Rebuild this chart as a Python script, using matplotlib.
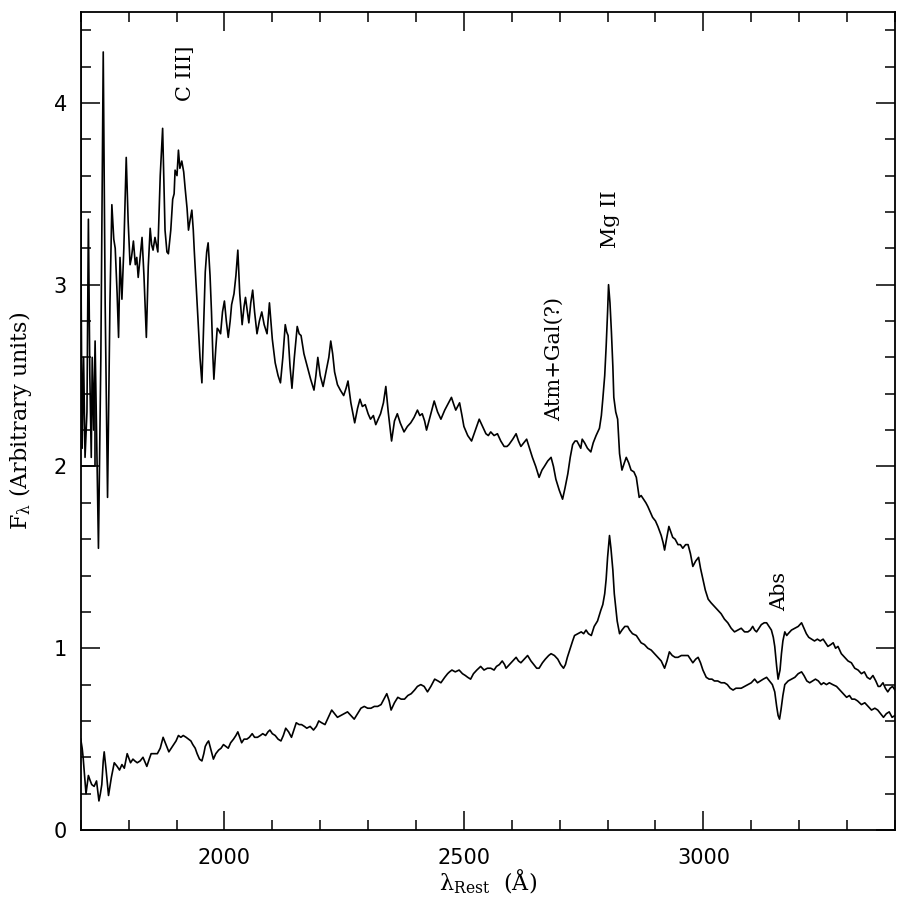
import matplotlib
matplotlib.use("Agg")
import matplotlib.pyplot as plt
from matplotlib.ticker import MultipleLocator

# ---------------- data ----------------
upper_wl = [1700, 1701, 1703, 1706, 1709, 1713, 1716, 1719, 1722, 1724, 1727, 1730, 1733, 1737, 1742,
            1747, 1751, 1756, 1761, 1765, 1769, 1772, 1776, 1779, 1782, 1786, 1790, 1795, 1799, 1803,
            1806, 1810, 1814, 1817, 1820, 1824, 1828, 1832, 1837, 1841, 1845, 1848, 1851, 1855, 1858,
            1861, 1866, 1871, 1876, 1880, 1883, 1888, 1892, 1895, 1897, 1901, 1904, 1907, 1911, 1915,
            1918, 1922, 1925, 1928, 1932, 1935, 1937, 1941, 1945, 1949, 1953, 1957, 1960, 1963, 1966,
            1970, 1973, 1976, 1978, 1982, 1985, 1988, 1992, 1996, 2000, 2004, 2008, 2012, 2015, 2020,
            2024, 2028, 2032, 2037, 2041, 2044, 2048, 2051, 2055, 2059, 2063, 2068, 2073, 2078, 2083,
            2089, 2094, 2100, 2106, 2112, 2117, 2122, 2127, 2130, 2133, 2137, 2141, 2146, 2152, 2156,
            2160, 2166, 2173, 2180, 2187, 2191, 2195, 2200, 2206, 2212, 2218, 2222, 2226, 2230, 2236,
            2242, 2249, 2254, 2258, 2264, 2272, 2278, 2283, 2288, 2294, 2300, 2305, 2311, 2316, 2321,
            2326, 2332, 2337, 2342, 2349, 2355, 2361, 2367, 2375, 2382, 2389, 2396, 2403, 2408, 2413,
            2418, 2422, 2430, 2438, 2445, 2452, 2460, 2468, 2474, 2479, 2483, 2487, 2491, 2496, 2500,
            2508, 2516, 2524, 2532, 2539, 2546, 2551, 2556, 2563, 2570, 2577, 2584, 2590, 2594, 2602,
            2609, 2614, 2619, 2625, 2631, 2637, 2643, 2650, 2657, 2663, 2668, 2675, 2682, 2687, 2692,
            2699, 2706, 2711, 2717, 2722, 2727, 2732, 2736, 2740, 2744, 2747, 2752, 2758, 2765, 2770,
            2776, 2783, 2787, 2790, 2794, 2797, 2800, 2802, 2805, 2808, 2811, 2813, 2817,
            2821, 2825, 2830, 2835, 2839, 2844, 2849, 2855, 2860, 2866, 2870, 2875, 2880, 2884, 2889,
            2894, 2900, 2905, 2912, 2916, 2919, 2923, 2928, 2932, 2936, 2941, 2947, 2952, 2957, 2963,
            2968, 2973, 2978, 2984, 2990, 2994, 2999,
            3004, 3010, 3016, 3023, 3030, 3037, 3044, 3051, 3058, 3065, 3072, 3079, 3086,
            3093, 3098, 3103, 3107, 3111, 3116, 3121, 3127, 3132, 3137, 3142, 3146, 3149, 3153, 3156,
            3160, 3163, 3166, 3170, 3174, 3177, 3184, 3191, 3198, 3205, 3210, 3215, 3220, 3226, 3232,
            3238, 3244, 3250, 3255, 3260, 3266, 3271, 3276, 3281, 3288, 3295, 3302, 3309, 3316, 3323,
            3330, 3336, 3342, 3348, 3354, 3360, 3365, 3369, 3375, 3380, 3385, 3390, 3395, 3400]
upper_f = [4.7, 2.9, 2.1, 2.6, 2.05, 2.3, 3.36, 2.5, 2.05, 2.6, 2.2, 2.69, 2.2, 1.55, 2.6,
           4.28, 2.9, 1.83, 2.9, 3.44, 3.25, 3.2, 2.95, 2.71, 3.15, 2.92, 3.2, 3.70, 3.35, 3.11,
           3.15, 3.24, 3.11, 3.15, 3.04, 3.15, 3.26, 3.05, 2.71, 3.1, 3.31, 3.22, 3.19, 3.26, 3.22,
           3.18, 3.6, 3.86, 3.30, 3.18, 3.17, 3.3, 3.47, 3.5, 3.63, 3.6, 3.74, 3.64, 3.68, 3.62,
           3.53, 3.42, 3.30, 3.35, 3.41, 3.3, 3.19, 3.0, 2.80, 2.6, 2.46, 2.8, 3.07, 3.18, 3.23,
           3.05, 2.85, 2.6, 2.48, 2.65, 2.76, 2.75, 2.73, 2.85, 2.91, 2.8, 2.71, 2.8, 2.89, 2.95,
           3.05, 3.19, 2.95, 2.78, 2.88, 2.93, 2.85, 2.79, 2.9, 2.97, 2.85, 2.73, 2.8, 2.85, 2.78,
           2.73, 2.90, 2.7, 2.57, 2.5, 2.46, 2.6, 2.78, 2.74, 2.72, 2.55, 2.43, 2.6, 2.77, 2.73,
           2.72, 2.62, 2.55, 2.48, 2.42, 2.5, 2.60, 2.5, 2.44, 2.52, 2.6, 2.69, 2.62, 2.52, 2.45,
           2.42, 2.39, 2.43, 2.47, 2.35, 2.24, 2.32, 2.37, 2.33, 2.34, 2.29, 2.26, 2.28, 2.23, 2.26,
           2.29, 2.35, 2.44, 2.3, 2.14, 2.25, 2.29, 2.24, 2.19, 2.22, 2.24, 2.27, 2.31, 2.28, 2.29,
           2.25, 2.20, 2.28, 2.36, 2.3, 2.26, 2.31, 2.35, 2.38, 2.34, 2.31, 2.33, 2.35, 2.28, 2.22,
           2.17, 2.14, 2.2, 2.26, 2.22, 2.18, 2.17, 2.19, 2.17, 2.18, 2.14, 2.11, 2.11, 2.12, 2.15,
           2.18, 2.14, 2.11, 2.13, 2.15, 2.1, 2.05, 2.0, 1.94, 1.98, 2.0, 2.03, 2.05, 2.0, 1.93,
           1.87, 1.82, 1.88, 1.96, 2.05, 2.12, 2.14, 2.14, 2.12, 2.10, 2.15, 2.13, 2.1, 2.08, 2.13,
           2.17, 2.21, 2.28, 2.37, 2.5, 2.66, 2.85, 3.0, 2.9, 2.74, 2.55, 2.38, 2.3,
           2.26, 2.07, 1.98, 2.02, 2.05, 2.02, 1.98, 1.97, 1.94, 1.83, 1.84, 1.82, 1.80, 1.78, 1.75,
           1.72, 1.70, 1.67, 1.62, 1.58, 1.54, 1.60, 1.67, 1.64, 1.61, 1.60, 1.57, 1.57, 1.55, 1.57,
           1.57, 1.52, 1.45, 1.48, 1.50, 1.44, 1.38,
           1.32, 1.27, 1.25, 1.23, 1.21, 1.19, 1.16, 1.14, 1.11, 1.09, 1.1, 1.11, 1.09,
           1.09, 1.1, 1.12, 1.1, 1.09, 1.11, 1.13, 1.14, 1.14, 1.12, 1.10, 1.06, 1.01, 0.9, 0.83,
           0.88, 0.97, 1.04, 1.09, 1.07, 1.08, 1.1, 1.11, 1.12, 1.14, 1.11, 1.08, 1.06, 1.05, 1.04,
           1.05, 1.04, 1.05, 1.03, 1.01, 1.02, 1.03, 1.0, 1.01, 0.97, 0.95, 0.93, 0.92, 0.89, 0.88,
           0.86, 0.87, 0.84, 0.83, 0.85, 0.82, 0.79, 0.79, 0.81, 0.78, 0.76, 0.78, 0.79, 0.77]

# flat (padded) stretch at the blue end of the upper spectrum
gap_wl = [1700, 1729, 1729]
gap_f = [2.0, 2.0, 2.6]

lower_wl = [1700, 1703, 1705, 1708, 1711, 1716, 1720, 1723, 1728, 1733, 1738, 1741, 1744, 1747, 1749,
            1753, 1758, 1764, 1770, 1776, 1781, 1786, 1791, 1797, 1804, 1809, 1813, 1818, 1824, 1830,
            1838, 1843, 1847, 1853, 1860, 1866, 1872, 1878, 1884, 1889, 1894, 1899, 1904, 1909, 1914,
            1920, 1925, 1930, 1934, 1939, 1943, 1948, 1953, 1957, 1960, 1964, 1967, 1972, 1977, 1982,
            1988, 1993, 1998, 2003, 2008, 2013, 2019, 2024, 2028, 2032, 2036, 2041, 2047, 2052, 2058,
            2063, 2069, 2075, 2080, 2086, 2091, 2095, 2100, 2106, 2112, 2118, 2123, 2128, 2134, 2140,
            2145, 2150, 2156, 2161, 2167, 2172, 2179, 2186, 2192, 2197, 2203, 2210, 2217, 2224, 2230,
            2236, 2243, 2250, 2257, 2264, 2271, 2278, 2285, 2292, 2299, 2306, 2313, 2320, 2327, 2333,
            2339, 2344, 2348, 2355, 2362, 2369, 2376, 2383, 2390, 2397, 2403, 2410, 2417, 2424, 2431,
            2439, 2446, 2452, 2460, 2466, 2470, 2475, 2482, 2490, 2497, 2503, 2508, 2514, 2520, 2527,
            2535, 2542, 2549, 2556, 2563, 2568, 2574, 2580, 2585, 2588, 2595, 2602, 2609, 2614, 2619,
            2626, 2633, 2640, 2646, 2652, 2657, 2664, 2670, 2677, 2682, 2689, 2696, 2702, 2708, 2712,
            2716, 2722, 2727, 2731, 2738, 2745, 2750, 2755, 2760, 2766, 2772, 2779, 2786, 2790, 2794,
            2797, 2800, 2804, 2807, 2811, 2814, 2816, 2820, 2825, 2830, 2836, 2842, 2846, 2852, 2860,
            2865, 2870, 2877, 2884, 2891, 2898, 2905, 2912, 2919, 2924, 2929, 2935, 2941, 2947, 2954,
            2961, 2968, 2973, 2978, 2984, 2989, 2994, 2999, 3006, 3012, 3018, 3023, 3030, 3037, 3044,
            3050, 3056, 3062, 3068, 3074, 3079, 3086, 3093, 3100, 3107, 3113, 3119, 3125, 3132, 3138,
            3144, 3149, 3153, 3156, 3159, 3162, 3166, 3170, 3177, 3184, 3191, 3198, 3205, 3210, 3216,
            3222, 3228, 3234, 3240, 3246, 3251, 3257, 3263, 3270, 3278, 3285, 3292, 3299, 3305, 3310,
            3316, 3322, 3330, 3337, 3344, 3351, 3358, 3364, 3370, 3376, 3382, 3388, 3394, 3400]
lower_f = [0.50, 0.45, 0.40, 0.3, 0.20, 0.30, 0.27, 0.25, 0.24, 0.27, 0.16, 0.2, 0.25, 0.38, 0.43,
           0.33, 0.19, 0.29, 0.37, 0.35, 0.33, 0.36, 0.34, 0.42, 0.37, 0.39, 0.38, 0.37, 0.38, 0.40,
           0.35, 0.39, 0.42, 0.42, 0.42, 0.45, 0.51, 0.47, 0.43, 0.45, 0.47, 0.49, 0.52, 0.51, 0.52,
           0.51, 0.50, 0.49, 0.47, 0.45, 0.42, 0.39, 0.38, 0.42, 0.46, 0.48, 0.49, 0.44, 0.39, 0.42,
           0.44, 0.45, 0.47, 0.46, 0.45, 0.48, 0.50, 0.52, 0.54, 0.51, 0.48, 0.50, 0.50, 0.51, 0.53,
           0.51, 0.51, 0.52, 0.53, 0.52, 0.54, 0.55, 0.53, 0.52, 0.50, 0.49, 0.52, 0.56, 0.54, 0.51,
           0.55, 0.59, 0.58, 0.58, 0.57, 0.56, 0.57, 0.55, 0.57, 0.60, 0.59, 0.58, 0.62, 0.66, 0.64,
           0.62, 0.63, 0.64, 0.65, 0.63, 0.61, 0.64, 0.67, 0.68, 0.67, 0.67, 0.68, 0.68, 0.69, 0.72,
           0.75, 0.71, 0.66, 0.70, 0.73, 0.72, 0.72, 0.74, 0.75, 0.77, 0.79, 0.80, 0.79, 0.76, 0.79,
           0.83, 0.82, 0.81, 0.84, 0.86, 0.87, 0.88, 0.87, 0.88, 0.86, 0.85, 0.84, 0.83, 0.86, 0.88,
           0.90, 0.88, 0.89, 0.89, 0.88, 0.90, 0.91, 0.93, 0.91, 0.89, 0.91, 0.93, 0.95, 0.93, 0.92,
           0.94, 0.96, 0.93, 0.91, 0.89, 0.89, 0.92, 0.94, 0.96, 0.97, 0.96, 0.94, 0.91, 0.89, 0.91,
           0.95, 1.0, 1.04, 1.07, 1.08, 1.09, 1.08, 1.10, 1.08, 1.07, 1.12, 1.15, 1.21, 1.24, 1.3,
           1.38, 1.5, 1.62, 1.55, 1.43, 1.3, 1.25, 1.15, 1.08, 1.1, 1.12, 1.12, 1.10, 1.08, 1.07,
           1.05, 1.03, 1.02, 1.0, 0.99, 0.97, 0.95, 0.93, 0.89, 0.93, 0.98, 0.96, 0.95, 0.95, 0.96,
           0.96, 0.96, 0.94, 0.92, 0.94, 0.95, 0.92, 0.88, 0.84, 0.83, 0.83, 0.82, 0.82, 0.81, 0.81,
           0.80, 0.78, 0.77, 0.78, 0.78, 0.78, 0.79, 0.80, 0.81, 0.83, 0.81, 0.82, 0.83, 0.84, 0.82,
           0.80, 0.76, 0.68, 0.63, 0.61, 0.66, 0.74, 0.80, 0.82, 0.83, 0.84, 0.86, 0.87, 0.85, 0.82,
           0.81, 0.82, 0.83, 0.82, 0.80, 0.81, 0.80, 0.81, 0.80, 0.79, 0.77, 0.75, 0.73, 0.74, 0.72,
           0.72, 0.71, 0.69, 0.70, 0.68, 0.66, 0.67, 0.66, 0.64, 0.62, 0.64, 0.65, 0.62, 0.63]

line_labels = ["C III]", "Mg II", "Atm+Gal(?)", "Abs"]
label_wl = [1918, 2807, 2689, 3159]
label_f = [4.16, 3.36, 2.59, 1.31]

x_major = [2000, 2500, 3000]
y_major = [0, 1, 2, 3, 4]

# ---------------- figure ----------------
plt.rcParams['mathtext.fontset'] = 'dejavuserif'
fig = plt.figure(figsize=(9.03, 9.02), dpi=100)
ax = fig.add_axes([0.0894, 0.0798, 0.9017, 0.9069])

ax.plot(upper_wl, upper_f, color='black', lw=1.2)
ax.plot(gap_wl, gap_f, color='black', lw=1.2)
ax.plot(lower_wl, lower_f, color='black', lw=1.2)

ax.set_xlim(1700, 3400)
ax.set_ylim(0, 4.5)
ax.set_xticks(x_major)
ax.set_yticks(y_major)
ax.xaxis.set_minor_locator(MultipleLocator(100))
ax.yaxis.set_minor_locator(MultipleLocator(0.2))
ax.tick_params(which='both', direction='in', top=True, right=True, width=1.1)
ax.tick_params(which='major', length=14, labelsize=15, pad=10)
ax.tick_params(which='minor', length=7)
ax.tick_params(axis='x', which='major', pad=13)
for lab in ax.get_xticklabels() + ax.get_yticklabels():
    lab.set_family('DejaVu Sans')
for sp in ax.spines.values():
    sp.set_linewidth(1.3)

ax.set_xlabel('λ$_{\\mathrm{Rest}}$  (Å)', fontsize=16, family='DejaVu Serif', labelpad=0)
ax.set_ylabel('F$_{\\mathrm{λ}}$ (Arbitrary units)', fontsize=16, family='DejaVu Serif', labelpad=14)

for t, xw, yf in zip(line_labels, label_wl, label_f):
    ax.text(xw, yf, t, rotation=90, ha='center', va='center', fontsize=15, family='DejaVu Serif')

fig.savefig('out.png', dpi=100)
